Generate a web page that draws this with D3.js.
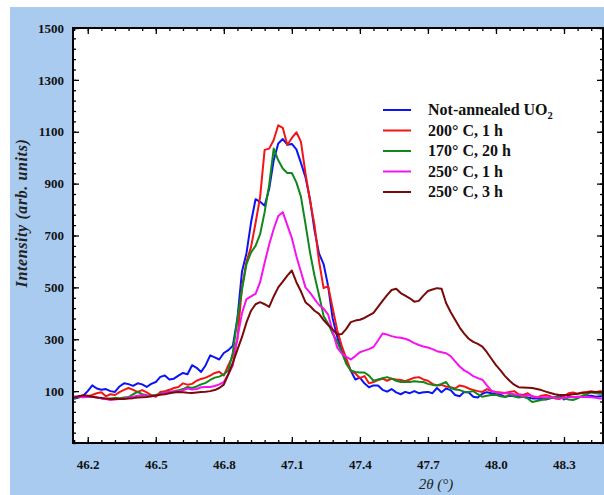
<!DOCTYPE html>
<html>
<head>
<meta charset="utf-8">
<script src="https://cdn.jsdelivr.net/npm/d3@7"></script>
<style>
  html, body { margin: 0; padding: 0; background: #ffffff; }
  svg { display: block; }
</style>
</head>
<body>
<svg id="chart" width="604" height="495"></svg>
<script>
// 2θ positions (degrees)
const twoTheta = [46.14,46.16,46.18,46.20,46.22,46.24,46.26,46.28,46.30,46.32,
  46.34,46.36,46.38,46.40,46.42,46.44,46.46,46.48,46.50,46.52,
  46.54,46.56,46.58,46.60,46.62,46.64,46.66,46.68,46.70,46.72,
  46.74,46.76,46.78,46.80,46.82,46.84,46.86,46.88,46.90,46.92,
  46.94,46.96,46.98,47.00,47.02,47.04,47.06,47.08,47.10,47.12,
  47.14,47.16,47.18,47.20,47.22,47.24,47.26,47.28,47.30,47.32,
  47.34,47.36,47.38,47.40,47.42,47.44,47.46,47.48,47.50,47.52,
  47.54,47.56,47.58,47.60,47.62,47.64,47.66,47.68,47.70,47.72,
  47.74,47.76,47.78,47.80,47.82,47.84,47.86,47.88,47.90,47.92,
  47.94,47.96,47.98,48.00,48.02,48.04,48.06,48.08,48.10,48.12,
  48.14,48.16,48.18,48.20,48.22,48.24,48.26,48.28,48.30,48.32,
  48.34,48.36,48.38,48.40,48.42,48.44,48.46,48.48];

const notAnnealed = [70,75,82,100,122,110,105,108,100,97,
  118,130,127,120,130,126,116,128,135,155,
  160,145,148,160,170,165,200,190,174,200,
  238,230,222,247,258,275,380,560,632,750,
  840,830,815,880,990,1055,1072,1050,1053,1032,
  980,925,840,720,630,590,505,380,310,255,
  215,178,145,152,130,115,122,122,105,98,
  108,95,88,97,92,100,92,96,97,92,
  112,96,110,104,85,80,97,95,78,75,
  90,96,92,90,86,78,82,80,80,78,
  75,72,72,70,68,72,75,85,68,80,
  76,78,78,80,82,78,80,80];

const c200_1h = [75,78,82,80,85,92,96,80,88,85,
  96,105,112,105,97,104,95,85,78,97,
  100,105,112,116,130,125,128,140,147,152,
  160,170,175,160,200,235,300,500,600,655,
  748,848,1030,1035,1068,1125,1115,1049,1076,1098,
  1062,940,835,740,600,497,505,420,335,275,
  225,178,168,150,158,130,135,143,148,140,
  148,145,143,138,145,152,154,145,140,128,
  122,124,118,115,110,122,118,110,104,100,
  97,108,100,97,95,93,97,100,88,85,
  92,80,75,82,85,80,72,70,80,92,
  95,90,95,97,100,97,100,98];

const c170_20h = [72,78,82,80,78,76,72,70,72,74,
  73,75,77,88,97,88,84,82,85,90,
  95,98,100,103,108,116,112,118,126,132,
  143,152,156,165,180,250,380,490,590,635,
  660,705,790,895,1035,990,958,941,941,905,
  850,745,635,545,470,390,360,322,290,250,
  205,180,174,172,172,160,140,145,150,154,
  148,140,135,136,135,138,136,135,128,124,
  122,128,135,112,106,104,98,97,100,88,
  78,82,85,86,80,77,86,80,75,78,
  72,58,62,66,70,73,76,77,72,68,
  66,72,82,88,95,92,90,90];

const c250_1h = [80,78,76,78,77,76,72,70,66,68,
  70,72,75,78,82,84,82,80,82,88,
  94,97,99,100,103,110,106,108,115,116,
  116,120,126,135,165,200,305,400,455,465,
  475,520,595,665,725,775,790,740,690,620,
  560,500,480,455,432,418,395,330,268,245,
  232,222,235,250,256,262,270,295,322,318,
  312,308,306,302,295,285,278,272,268,262,
  254,250,246,235,215,195,180,170,158,150,
  144,122,102,95,92,92,92,88,86,80,
  85,80,77,76,76,76,74,72,74,76,
  77,77,77,77,76,74,72,72];

const c250_3h = [75,80,84,82,78,75,74,72,70,70,
  70,70,72,73,75,76,77,80,83,86,
  88,92,95,97,96,94,93,95,97,98,
  100,104,112,125,165,210,260,308,365,410,
  435,443,435,425,465,500,522,545,565,520,
  485,443,428,410,398,374,355,338,318,320,
  340,366,372,375,382,392,402,425,448,470,
  490,495,478,468,458,445,448,468,486,492,
  497,495,440,405,375,345,322,302,290,282,
  272,250,225,200,180,158,140,125,115,114,
  113,112,108,104,98,93,88,85,85,85,
  88,90,93,95,97,97,97,97];

const seriesNames = ["Not-annealed UO", "200° C, 1 h", "170° C, 20 h", "250° C, 1 h", "250° C, 3 h"];
const seriesColors = ["#0a14f5", "#f51414", "#11881a", "#f514f0", "#7a0a0a"];
const seriesValues = [notAnnealed, c200_1h, c170_20h, c250_1h, c250_3h];

const xMajorTicks = [46.2, 46.5, 46.8, 47.1, 47.4, 47.7, 48.0, 48.3];
const yMajorTicks = [100, 300, 500, 700, 900, 1100, 1300, 1500];

const svg = d3.select("#chart");
const W = 604, H = 495;
const L = 73, R = 603, T = 28, B = 443;

// background
svg.append("rect").attr("x", 0).attr("y", 0).attr("width", W).attr("height", H).attr("fill", "#ffffff");
svg.append("rect").attr("x", 10).attr("y", 7).attr("width", W - 10).attr("height", H - 7).attr("fill", "#a9cbf0");
svg.append("rect").attr("x", L).attr("y", T).attr("width", R - L).attr("height", B - T).attr("fill", "#ffffff");

const x = d3.scaleLinear().domain([46.135, 48.472]).range([L, R]);
const y = d3.scaleLinear().domain([-100, 1500]).range([B, T]);

const xMinor = d3.range(46.14, 48.47, 0.06).map(v => +v.toFixed(2));
const yMinor = d3.range(-100, 1501, 40);

const font = "'Liberation Serif', 'Times New Roman', serif";

function styleAxis(g) {
  g.select(".domain").remove();
  g.selectAll(".tick line").attr("stroke", "#000").attr("stroke-width", 1.3);
}

// minor ticks
svg.append("g").attr("transform", `translate(0,${B})`)
  .call(d3.axisBottom(x).tickValues(xMinor).tickSize(-3).tickFormat(""))
  .call(styleAxis);
svg.append("g").attr("transform", `translate(0,${T})`)
  .call(d3.axisTop(x).tickValues(xMinor).tickSize(-3).tickFormat(""))
  .call(styleAxis);
svg.append("g").attr("transform", `translate(${L},0)`)
  .call(d3.axisLeft(y).tickValues(yMinor).tickSize(-3).tickFormat(""))
  .call(styleAxis);
svg.append("g").attr("transform", `translate(${R},0)`)
  .call(d3.axisRight(y).tickValues(yMinor).tickSize(-3).tickFormat(""))
  .call(styleAxis);

// major ticks
const gx = svg.append("g").attr("transform", `translate(0,${B})`)
  .call(d3.axisBottom(x).tickValues(xMajorTicks).tickSize(-6).tickPadding(17).tickFormat(d3.format(".1f")))
  .call(styleAxis);
svg.append("g").attr("transform", `translate(0,${T})`)
  .call(d3.axisTop(x).tickValues(xMajorTicks).tickSize(-6).tickFormat(""))
  .call(styleAxis);
const gy = svg.append("g").attr("transform", `translate(${L},0)`)
  .call(d3.axisLeft(y).tickValues(yMajorTicks).tickSize(-6).tickPadding(9).tickFormat(d3.format("d")))
  .call(styleAxis);
svg.append("g").attr("transform", `translate(${R},0)`)
  .call(d3.axisRight(y).tickValues(yMajorTicks).tickSize(-6).tickFormat(""))
  .call(styleAxis);

[gx, gy].forEach(g => g.selectAll(".tick text")
  .attr("font-family", font).attr("font-size", 13).attr("font-weight", "bold").attr("fill", "#111"));

// clip
svg.append("clipPath").attr("id", "plotclip")
  .append("rect").attr("x", L).attr("y", T).attr("width", R - L).attr("height", B - T);

const line = d3.line().x((d, i) => x(twoTheta[i])).y(d => y(d));
const plot = svg.append("g").attr("clip-path", "url(#plotclip)");
seriesValues.forEach((vals, si) => {
  plot.append("path").datum(vals)
    .attr("d", line)
    .attr("fill", "none")
    .attr("stroke", seriesColors[si])
    .attr("stroke-width", 2)
    .attr("stroke-linejoin", "round");
});

// frame
svg.append("rect").attr("x", L).attr("y", T).attr("width", R - L).attr("height", B - T)
  .attr("fill", "none").attr("stroke", "#000").attr("stroke-width", 2);

// legend
const leg = svg.append("g");
seriesNames.forEach((name, i) => {
  const ly = 110 + i * 20.5;
  leg.append("line").attr("x1", 383).attr("x2", 411).attr("y1", ly).attr("y2", ly)
    .attr("stroke", seriesColors[i]).attr("stroke-width", 2);
  const t = leg.append("text").attr("x", 428).attr("y", ly + 5)
    .attr("font-family", font).attr("font-size", 16).attr("font-weight", "bold").attr("fill", "#111")
    .text(name);
  if (i === 0) {
    t.append("tspan").attr("font-size", 10.5).attr("dy", 4).text("2");
  }
});

// axis titles
svg.append("text")
  .attr("transform", `translate(27,213) rotate(-90)`)
  .attr("text-anchor", "middle")
  .attr("font-family", font).attr("font-size", 16).attr("font-weight", "bold").attr("font-style", "italic")
  .attr("letter-spacing", 0.6)
  .attr("fill", "#222")
  .text("Intensity (arb. units)");

svg.append("text")
  .attr("x", 436).attr("y", 489)
  .attr("text-anchor", "middle")
  .attr("font-family", font).attr("font-size", 15).attr("font-style", "italic")
  .attr("fill", "#222")
  .text("2θ (°)");
</script>
</body>
</html>
